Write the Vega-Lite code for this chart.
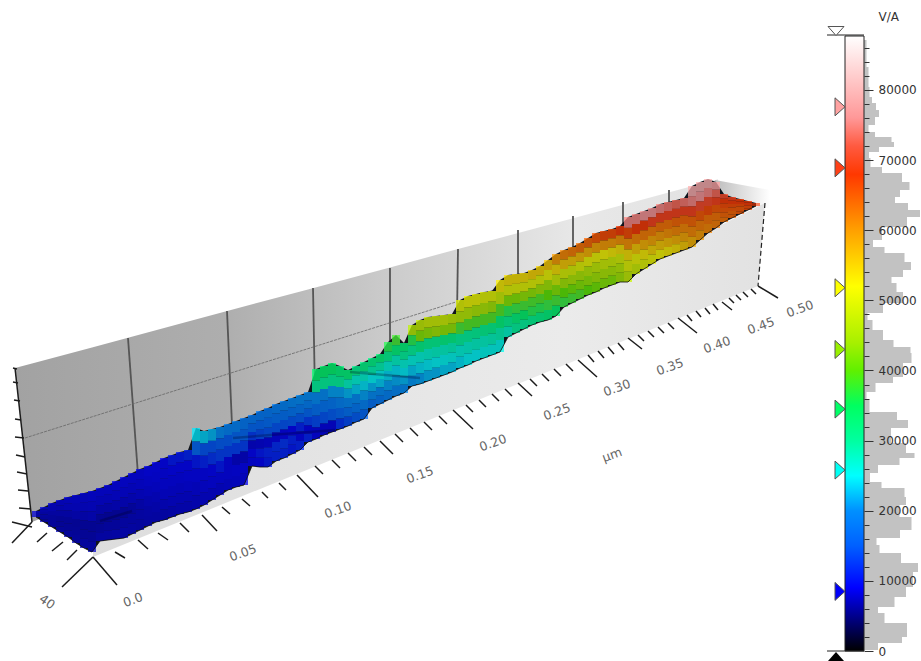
{"$schema":"https://vega.github.io/schema/vega-lite/v6.json","width":921,"height":661,"autosize":"none","padding":0,"background":"white","config":{"view":{"stroke":null}},
"datasets":{"surface":[
{"x":36,"top":511,"bot":517,"a":5000,"b":5000,"c":4500,"d":4500,"e":4000,"f":4000},
{"x":44,"top":507,"bot":522,"a":6000,"b":5000,"c":4000,"d":3500,"e":3000,"f":3000},
{"x":52,"top":503,"bot":527,"a":6000,"b":5500,"c":4000,"d":3000,"e":3000,"f":3000},
{"x":60,"top":500,"bot":532,"a":6500,"b":5500,"c":4000,"d":2500,"e":2500,"f":3000},
{"x":68,"top":497,"bot":537,"a":7000,"b":6000,"c":4000,"d":2500,"e":2500,"f":3000},
{"x":76,"top":495,"bot":543,"a":7000,"b":6000,"c":4500,"d":2000,"e":2500,"f":3000},
{"x":84,"top":493,"bot":548,"a":7000,"b":6000,"c":4500,"d":2000,"e":2500,"f":3500},
{"x":92,"top":491,"bot":552,"a":7500,"b":6500,"c":5000,"d":2000,"e":2500,"f":3500},
{"x":100,"top":488,"bot":541,"a":7500,"b":6500,"c":4500,"d":2000,"e":2500,"f":4000},
{"x":108,"top":485,"bot":540,"a":7500,"b":6500,"c":4500,"d":1500,"e":3000,"f":4000},
{"x":116,"top":481,"bot":539,"a":8000,"b":7000,"c":5000,"d":1500,"e":3000,"f":4500},
{"x":124,"top":477,"bot":538,"a":8000,"b":7000,"c":5000,"d":2000,"e":3500,"f":4500},
{"x":132,"top":473,"bot":534,"a":8000,"b":7000,"c":5500,"d":3000,"e":3500,"f":4000},
{"x":140,"top":469,"bot":530,"a":8000,"b":7500,"c":6500,"d":4500,"e":4000,"f":3500},
{"x":148,"top":466,"bot":526,"a":9000,"b":8000,"c":7000,"d":5500,"e":4500,"f":4000},
{"x":156,"top":462,"bot":522,"a":9000,"b":8500,"c":7500,"d":6000,"e":5000,"f":4000},
{"x":164,"top":458,"bot":520,"a":9000,"b":8500,"c":8000,"d":7000,"e":5500,"f":4000},
{"x":172,"top":455,"bot":517,"a":9500,"b":9000,"c":8000,"d":7000,"e":6000,"f":4500},
{"x":180,"top":452,"bot":514,"a":9500,"b":9000,"c":8000,"d":7000,"e":6000,"f":5000},
{"x":188,"top":450,"bot":512,"a":10000,"b":9000,"c":8500,"d":7500,"e":6000,"f":5000},
{"x":196,"top":428,"bot":509,"a":24000,"b":16000,"c":9500,"d":8500,"e":7000,"f":5500},
{"x":204,"top":431,"bot":505,"a":23000,"b":14000,"c":10000,"d":8500,"e":7500,"f":6000},
{"x":212,"top":429,"bot":500,"a":22000,"b":14000,"c":11000,"d":9000,"e":8000,"f":6000},
{"x":220,"top":427,"bot":495,"a":20000,"b":15000,"c":12000,"d":9500,"e":8000,"f":6500},
{"x":228,"top":424,"bot":490,"a":19000,"b":15000,"c":12000,"d":8000,"e":8000,"f":7000},
{"x":236,"top":421,"bot":487,"a":19000,"b":16000,"c":12000,"d":5000,"e":8500,"f":7500},
{"x":244,"top":418,"bot":485,"a":18000,"b":16000,"c":12000,"d":5000,"e":8500,"f":7500},
{"x":252,"top":415,"bot":466,"a":18000,"b":16000,"c":11500,"d":5500,"e":9000,"f":8500},
{"x":260,"top":411,"bot":467,"a":18000,"b":16000,"c":13000,"d":6000,"e":9500,"f":9000},
{"x":268,"top":408,"bot":467,"a":18000,"b":16500,"c":14000,"d":7000,"e":10000,"f":9500},
{"x":276,"top":404,"bot":461,"a":18500,"b":17000,"c":14000,"d":7500,"e":10500,"f":10000},
{"x":284,"top":401,"bot":458,"a":19000,"b":17000,"c":14000,"d":8000,"e":11000,"f":10000},
{"x":292,"top":398,"bot":454,"a":19500,"b":17500,"c":14500,"d":9000,"e":10000,"f":9500},
{"x":300,"top":395,"bot":450,"a":20000,"b":18000,"c":15000,"d":10000,"e":8000,"f":10000},
{"x":308,"top":392,"bot":442,"a":20000,"b":18500,"c":16000,"d":12000,"e":8000,"f":10000},
{"x":316,"top":369,"bot":439,"a":34000,"b":30000,"c":20000,"d":17000,"e":13000,"f":8000},
{"x":324,"top":366,"bot":435,"a":34000,"b":30000,"c":20000,"d":17500,"e":14000,"f":7000},
{"x":332,"top":363,"bot":432,"a":34000,"b":30000,"c":21000,"d":18000,"e":15000,"f":7000},
{"x":340,"top":366,"bot":429,"a":33000,"b":30000,"c":21000,"d":19000,"e":16000,"f":11000},
{"x":348,"top":370,"bot":426,"a":33000,"b":28000,"c":22000,"d":19500,"e":17000,"f":13000},
{"x":356,"top":366,"bot":422,"a":31000,"b":27000,"c":23000,"d":20000,"e":18000,"f":15000},
{"x":364,"top":362,"bot":419,"a":32000,"b":27500,"c":24000,"d":21000,"e":19000,"f":16000},
{"x":372,"top":358,"bot":408,"a":32000,"b":29000,"c":25000,"d":22000,"e":20000,"f":17000},
{"x":380,"top":354,"bot":404,"a":33000,"b":29000,"c":25500,"d":23000,"e":20000,"f":18000},
{"x":388,"top":342,"bot":400,"a":36000,"b":31000,"c":27000,"d":23500,"e":21000,"f":19000},
{"x":396,"top":335,"bot":396,"a":38000,"b":33000,"c":28000,"d":24000,"e":21500,"f":19500},
{"x":404,"top":343,"bot":393,"a":33000,"b":30000,"c":27000,"d":24500,"e":22000,"f":20000},
{"x":412,"top":325,"bot":386,"a":46000,"b":36000,"c":30000,"d":26500,"e":23000,"f":20500},
{"x":420,"top":320,"bot":384,"a":47000,"b":42000,"c":32000,"d":27000,"e":24000,"f":21000},
{"x":428,"top":317,"bot":381,"a":48000,"b":43000,"c":31000,"d":27500,"e":24500,"f":22000},
{"x":436,"top":316,"bot":378,"a":48000,"b":44000,"c":31000,"d":28000,"e":25000,"f":22000},
{"x":444,"top":315,"bot":375,"a":48000,"b":43000,"c":32000,"d":28000,"e":25500,"f":23000},
{"x":452,"top":314,"bot":372,"a":47000,"b":43000,"c":32000,"d":28500,"e":26000,"f":23000},
{"x":460,"top":300,"bot":368,"a":50000,"b":46000,"c":38000,"d":30000,"e":27000,"f":24000},
{"x":468,"top":296,"bot":365,"a":51000,"b":46000,"c":39000,"d":30000,"e":27500,"f":25000},
{"x":476,"top":294,"bot":361,"a":51000,"b":45000,"c":39000,"d":30500,"e":28000,"f":25000},
{"x":484,"top":292,"bot":358,"a":50000,"b":45000,"c":39000,"d":31000,"e":28000,"f":26000},
{"x":492,"top":291,"bot":355,"a":50000,"b":44000,"c":39000,"d":31500,"e":28500,"f":26000},
{"x":500,"top":280,"bot":352,"a":53000,"b":48000,"c":39000,"d":33000,"e":29000,"f":26000},
{"x":508,"top":275,"bot":337,"a":54000,"b":50000,"c":42000,"d":36000,"e":31000,"f":28000},
{"x":516,"top":274,"bot":333,"a":54000,"b":50000,"c":42000,"d":37000,"e":33000,"f":30000},
{"x":524,"top":273,"bot":329,"a":54000,"b":50000,"c":43000,"d":38000,"e":34000,"f":30000},
{"x":532,"top":270,"bot":325,"a":55000,"b":50000,"c":43000,"d":38500,"e":36000,"f":31000},
{"x":540,"top":266,"bot":322,"a":55000,"b":50000,"c":44000,"d":39000,"e":36000,"f":32000},
{"x":548,"top":260,"bot":320,"a":56000,"b":51000,"c":44000,"d":40000,"e":37000,"f":33000},
{"x":556,"top":254,"bot":316,"a":60000,"b":54000,"c":48000,"d":42000,"e":38000,"f":34000},
{"x":564,"top":250,"bot":307,"a":62000,"b":56000,"c":49000,"d":44000,"e":40000,"f":37000},
{"x":572,"top":247,"bot":303,"a":63000,"b":56000,"c":49000,"d":45000,"e":41000,"f":38000},
{"x":580,"top":243,"bot":299,"a":64000,"b":57000,"c":50000,"d":45000,"e":42000,"f":39000},
{"x":588,"top":238,"bot":295,"a":65000,"b":58000,"c":51000,"d":46000,"e":43000,"f":40000},
{"x":596,"top":233,"bot":292,"a":66000,"b":59000,"c":51000,"d":47000,"e":44000,"f":41000},
{"x":604,"top":231,"bot":288,"a":67000,"b":60000,"c":52000,"d":48000,"e":45000,"f":42000},
{"x":612,"top":229,"bot":285,"a":67000,"b":60000,"c":53000,"d":48000,"e":45000,"f":42000},
{"x":620,"top":226,"bot":282,"a":68000,"b":61000,"c":54000,"d":49000,"e":46000,"f":44000},
{"x":628,"top":217,"bot":282,"a":75000,"b":67000,"c":61000,"d":54000,"e":50000,"f":47000},
{"x":636,"top":214,"bot":274,"a":75000,"b":68000,"c":62000,"d":56000,"e":51000,"f":48000},
{"x":644,"top":211,"bot":269,"a":76000,"b":68000,"c":63000,"d":58000,"e":53000,"f":50000},
{"x":652,"top":208,"bot":264,"a":76000,"b":69000,"c":63000,"d":59000,"e":55000,"f":51000},
{"x":660,"top":204,"bot":259,"a":75000,"b":69000,"c":64000,"d":60000,"e":56000,"f":52000},
{"x":668,"top":202,"bot":256,"a":74000,"b":69000,"c":64000,"d":61000,"e":57000,"f":53000},
{"x":676,"top":200,"bot":253,"a":73000,"b":69000,"c":65000,"d":62000,"e":58000,"f":54000},
{"x":684,"top":198,"bot":250,"a":74000,"b":69000,"c":65000,"d":62000,"e":59000,"f":56000},
{"x":692,"top":186,"bot":247,"a":80000,"b":75000,"c":69000,"d":65000,"e":62000,"f":58000},
{"x":700,"top":182,"bot":240,"a":80000,"b":76000,"c":70000,"d":66000,"e":63000,"f":60000},
{"x":708,"top":179,"bot":233,"a":80000,"b":75000,"c":70000,"d":67000,"e":64000,"f":62000},
{"x":716,"top":182,"bot":228,"a":78000,"b":73000,"c":69000,"d":66000,"e":64000,"f":63000},
{"x":724,"top":194,"bot":222,"a":70000,"b":68000,"c":67000,"d":66000,"e":65000,"f":64000},
{"x":732,"top":197,"bot":218,"a":69000,"b":68000,"c":67000,"d":66000,"e":65000,"f":65000},
{"x":740,"top":199,"bot":214,"a":68000,"b":68000,"c":67000,"d":66000,"e":66000,"f":66000},
{"x":748,"top":201,"bot":210,"a":68000,"b":68000,"c":68000,"d":67000,"e":67000,"f":67000},
{"x":756,"top":203,"bot":206,"a":68000,"b":68000,"c":68000,"d":68000,"e":68000,"f":68000}
],
"ticks":[
{"x":93,"y":557,"x2":117,"y2":585},{"x":93,"y":557,"x2":62,"y2":587},{"x":115,"y":552,"x2":125,"y2":558},{"x":138,"y":540,"x2":148,"y2":549},{"x":158,"y":533,"x2":168,"y2":540},{"x":180,"y":523,"x2":189,"y2":532},
{"x":202,"y":515,"x2":217,"y2":531},{"x":222,"y":507,"x2":230,"y2":514},{"x":242,"y":499,"x2":250,"y2":506},{"x":262,"y":492,"x2":268,"y2":498},{"x":279,"y":483,"x2":286,"y2":490},
{"x":297,"y":475,"x2":318,"y2":497},{"x":315,"y":466,"x2":323,"y2":474},{"x":332,"y":460,"x2":340,"y2":468},{"x":348,"y":453,"x2":356,"y2":461},{"x":364,"y":447,"x2":372,"y2":455},
{"x":380,"y":441,"x2":393,"y2":454},{"x":395,"y":434,"x2":403,"y2":442},{"x":410,"y":428,"x2":418,"y2":436},{"x":424,"y":422,"x2":432,"y2":430},{"x":439,"y":416,"x2":447,"y2":424},
{"x":453,"y":410,"x2":473,"y2":429},{"x":466,"y":405,"x2":473,"y2":412},{"x":479,"y":400,"x2":486,"y2":407},{"x":492,"y":394,"x2":499,"y2":401},{"x":505,"y":389,"x2":512,"y2":396},
{"x":518,"y":383,"x2":532,"y2":396},{"x":530,"y":379,"x2":537,"y2":386},{"x":542,"y":374,"x2":549,"y2":381},{"x":554,"y":369,"x2":561,"y2":376},{"x":566,"y":364,"x2":573,"y2":371},
{"x":578,"y":360,"x2":597,"y2":377},{"x":588,"y":355,"x2":594,"y2":362},{"x":598,"y":351,"x2":604,"y2":358},{"x":608,"y":347,"x2":614,"y2":354},{"x":618,"y":343,"x2":624,"y2":350},
{"x":628,"y":338,"x2":642,"y2":349},{"x":638,"y":335,"x2":644,"y2":341},{"x":648,"y":331,"x2":654,"y2":337},{"x":658,"y":327,"x2":664,"y2":333},{"x":668,"y":323,"x2":674,"y2":329},
{"x":678,"y":318,"x2":697,"y2":333},{"x":687,"y":315,"x2":692,"y2":321},{"x":696,"y":311,"x2":701,"y2":317},{"x":705,"y":308,"x2":710,"y2":314},{"x":713,"y":304,"x2":718,"y2":310},
{"x":722,"y":302,"x2":732,"y2":310},{"x":729,"y":298,"x2":734,"y2":303},{"x":736,"y":295,"x2":741,"y2":300},{"x":743,"y":292,"x2":748,"y2":297},{"x":751,"y":289,"x2":756,"y2":294},
{"x":758,"y":286,"x2":778,"y2":298},
{"x":77,"y":550,"x2":67,"y2":560},{"x":63,"y":542,"x2":52,"y2":551},{"x":47,"y":533,"x2":37,"y2":542},{"x":32,"y":522,"x2":12,"y2":543},{"x":32,"y":527,"x2":12,"y2":522},
{"x":17,"y":369,"x2":13,"y2":368},{"x":18,"y":383,"x2":13,"y2":382},{"x":20,"y":401,"x2":14,"y2":400},{"x":21,"y":420,"x2":15,"y2":419},{"x":24,"y":438,"x2":15,"y2":437},{"x":25,"y":457,"x2":16,"y2":455},{"x":27,"y":474,"x2":17,"y2":472},{"x":28,"y":491,"x2":18,"y2":490},{"x":31,"y":509,"x2":19,"y2":508},{"x":15,"y":368,"x2":32,"y2":522}
],
"hist":[{"v":87130,"n":1},{"v":83280,"n":4},{"v":80430,"n":5},{"v":79000,"n":6},{"v":78140,"n":10},{"v":77150,"n":14},{"v":76150,"n":16},{"v":75010,"n":6},{"v":74010,"n":3},{"v":73300,"n":19},{"v":72580,"n":36},{"v":71870,"n":24},{"v":71160,"n":6},{"v":70300,"n":4},{"v":69020,"n":9},{"v":68160,"n":27},{"v":66880,"n":49},{"v":65740,"n":42},{"v":64740,"n":30},{"v":63880,"n":32},{"v":62890,"n":56},{"v":61890,"n":56},{"v":60460,"n":30},{"v":58610,"n":6},{"v":57610,"n":12},{"v":56750,"n":29},{"v":55470,"n":52},{"v":54330,"n":42},{"v":53330,"n":36},{"v":52480,"n":19},{"v":51190,"n":46},{"v":49620,"n":32},{"v":48200,"n":6},{"v":47200,"n":1},{"v":45770,"n":16},{"v":44350,"n":22},{"v":43350,"n":37},{"v":42490,"n":56},{"v":41070,"n":39},{"v":39070,"n":39},{"v":38220,"n":19},{"v":36930,"n":4},{"v":35790,"n":1},{"v":34080,"n":10},{"v":32940,"n":56},{"v":31800,"n":32},{"v":30520,"n":22},{"v":29660,"n":32},{"v":28230,"n":52},{"v":27520,"n":49},{"v":26520,"n":22},{"v":25380,"n":6},{"v":24100,"n":6},{"v":23240,"n":29},{"v":21960,"n":52},{"v":20820,"n":32},{"v":19110,"n":39},{"v":17250,"n":56},{"v":16110,"n":16},{"v":15120,"n":9},{"v":13970,"n":22},{"v":12550,"n":52},{"v":11270,"n":56},{"v":9130,"n":42},{"v":7700,"n":42},{"v":6270,"n":19},{"v":5420,"n":9},{"v":3990,"n":32},{"v":2000,"n":54},{"v":1140,"n":22},{"v":140,"n":6}]},
"encoding":{"x":{"field":"x","type":"quantitative","scale":{"domain":[0,921]},"axis":null},"y":{"field":"y","type":"quantitative","scale":{"domain":[0,661],"reverse":true},"axis":null}},
"resolve":{"scale":{"x":"independent","y":"independent"},"axis":{"y":"independent"}},
"layer":[
{"data":{"values":[{"x":15,"y":368,"y2":368},{"x":32,"y":363.5,"y2":522},{"x":92,"y":347.4,"y2":498},{"x":190,"y":321,"y2":458},{"x":308,"y":289.4,"y2":400},{"x":390,"y":267.4,"y2":352},{"x":458,"y":249,"y2":320},{"x":548,"y":225,"y2":275},{"x":628,"y":203.4,"y2":235},{"x":700,"y":184,"y2":200},{"x":718,"y":179.2,"y2":195}]},
"mark":{"type":"area","color":{"gradient":"linear","x1":0,"x2":1,"y1":0,"y2":0,"stops":[{"offset":0,"color":"#a2a2a2"},{"offset":0.3,"color":"#aeaeae"},{"offset":0.53,"color":"#cbcbcb"},{"offset":0.8,"color":"#e8e8e8"},{"offset":1,"color":"#e2e2e2"}]}},"encoding":{"y2":{"field":"y2"}}},
{"data":{"values":[{"x":715,"y":180,"y2":205},{"x":770,"y":190,"y2":208}]},"mark":{"type":"area","color":{"gradient":"linear","x1":0,"x2":1,"y1":0,"y2":0,"stops":[{"offset":0,"color":"#bdbdbd"},{"offset":1,"color":"#ffffff"}]}},"encoding":{"y2":{"field":"y2"}}},
{"data":{"values":[{"x":128,"y":338,"x2":138,"y2":475},{"x":227,"y":311,"x2":232,"y2":425},{"x":313,"y":288,"x2":315,"y2":395},{"x":390,"y":268,"x2":390,"y2":345},{"x":458,"y":249,"x2":457,"y2":315},{"x":518,"y":230,"x2":518,"y2":275},{"x":573,"y":216,"x2":573,"y2":248},{"x":623,"y":202,"x2":623,"y2":228},{"x":669,"y":190,"x2":669,"y2":205}]},"mark":{"type":"rule","color":"#555555","strokeWidth":1.8},"encoding":{"x2":{"field":"x2"},"y2":{"field":"y2"}}},
{"data":{"values":[{"x":25,"y":438,"x2":497,"y2":289}]},"mark":{"type":"rule","color":"#666666","strokeWidth":0.8,"strokeDash":[3,1]},"encoding":{"x2":{"field":"x2"},"y2":{"field":"y2"}}},
{"data":{"values":[{"x":93,"y":540,"y2":557},{"x":758,"y":206.5,"y2":286},{"x":765,"y":203,"y2":203}]},"mark":{"type":"area","color":{"gradient":"linear","x1":0,"x2":1,"y1":0,"y2":0,"stops":[{"offset":0,"color":"#dddddd"},{"offset":0.7,"color":"#ebebeb"},{"offset":1,"color":"#e2e2e2"}]}},"encoding":{"y2":{"field":"y2"}}},
{"data":{"name":"ticks"},"mark":{"type":"rule","color":"#1c1c1c","strokeWidth":1.5},"encoding":{"x2":{"field":"x2"},"y2":{"field":"y2"}}},
{"data":{"values":[{"x":765,"y":203,"x2":758,"y2":286}]},"mark":{"type":"rule","color":"#222222","strokeWidth":1.2,"strokeDash":[5,3]},"encoding":{"x2":{"field":"x2"},"y2":{"field":"y2"}}},
{"data":{"name":"surface"},"mark":{"type":"area","color":"#10141c"},"encoding":{"y":{"field":"top","type":"quantitative","scale":{"domain":[0,661],"reverse":true},"axis":null},"y2":{"field":"bot"}}},
{"data":{"name":"surface"},"transform":[{"fold":["a","b","c","d","e","f"],"as":["band","va"]},{"calculate":"indexof('abcdef',datum.band)","as":"i"},{"calculate":"datum.top+(datum.bot-datum.top)*datum.i/6","as":"y"},{"calculate":"datum.top+(datum.bot-datum.top)*(datum.i+1)/6","as":"y2"}],"mark":{"type":"rule","strokeWidth":8,"opacity":0.74},"encoding":{"y2":{"field":"y2"},"color":{"field":"va","type":"quantitative","legend":null,"scale":{"domain":[0,9000,15000,20000,25000,30000,35000,40000,44000,52000,60000,68000,72000,76000,87700],"range":["#000000","#0000ff","#0060ff","#0090ff","#00ffff","#00ffa0","#00ff60","#60f000","#a8f000","#ffff00","#ffa000","#ff3800","#ff5a40","#ff9898","#ffffff"]}}}},
{"data":{"values":[{"x":100,"y":521,"x2":132,"y2":511},{"x":233,"y":438,"x2":335,"y2":430},{"x":350,"y":372,"x2":420,"y2":378}]},"mark":{"type":"rule","color":"#000020","strokeWidth":2.5,"opacity":0.28},"encoding":{"x2":{"field":"x2"},"y2":{"field":"y2"}}},
{"data":{"name":"surface"},"mark":{"type":"line","color":"#0a0a0a","strokeWidth":0.8},"encoding":{"y":{"field":"bot","type":"quantitative","scale":{"domain":[0,661],"reverse":true},"axis":null}}},
{"data":{"values":[{"x":133,"y":600,"t":"0.0"},{"x":243,"y":553,"t":"0.05"},{"x":338,"y":510,"t":"0.10"},{"x":420,"y":475,"t":"0.15"},{"x":493,"y":443,"t":"0.20"},{"x":557,"y":412,"t":"0.25"},{"x":617,"y":388,"t":"0.30"},{"x":670,"y":367,"t":"0.35"},{"x":717,"y":345,"t":"0.40"},{"x":761,"y":326,"t":"0.45"},{"x":800,"y":309,"t":"0.50"},{"x":612,"y":455,"t":"µm"}]},"mark":{"type":"text","font":"DejaVu Sans","fontSize":12.5,"angle":340,"color":"#666666"},"encoding":{"text":{"field":"t"}}},
{"data":{"values":[{"x":47,"y":602,"t":"40"}]},"mark":{"type":"text","font":"DejaVu Sans","fontSize":12.5,"angle":35,"color":"#666666"},"encoding":{"text":{"field":"t"}}},
{"data":{"name":"hist"},"mark":{"type":"area","orient":"horizontal","interpolate":"step","color":"#c2c2c2"},"encoding":{"x":{"field":"n","type":"quantitative","stack":null,"scale":{"domain":[0,57],"range":[864,921]},"axis":null},"y":{"field":"v","type":"quantitative","scale":{"domain":[0,87700],"range":[651,36]},"axis":{"orient":"right","offset":-57,"zindex":1,"values":[0,2000,4000,6000,8000,10000,12000,14000,16000,18000,20000,22000,24000,26000,28000,30000,32000,34000,36000,38000,40000,42000,44000,46000,48000,50000,52000,54000,56000,58000,60000,62000,64000,66000,68000,70000,72000,74000,76000,78000,80000,82000,84000,86000],"labelExpr":"datum.value % 10000 == 0 ? datum.value : ''","labelOverlap":false,"labelFlush":false,"domain":false,"grid":false,"tickColor":"#333333","tickSize":{"condition":{"test":"datum.value % 10000 == 0","value":9},"value":5},"labelPadding":5,"labelFont":"DejaVu Sans","labelFontSize":12,"labelColor":"#333333","title":"V/A","titleAngle":0,"titleX":14,"titleY":16,"titleAlign":"left","titleBaseline":"middle","titleFont":"DejaVu Sans","titleFontSize":12,"titleFontWeight":"normal","titleColor":"#333333"}}}},
{"data":{"values":[{"lo":0,"hi":87700,"x":845,"x2":864}]},"mark":{"type":"rect","stroke":"#222222","strokeWidth":1,"color":{"gradient":"linear","x1":0,"x2":0,"y1":1,"y2":0,"stops":[{"offset":0,"color":"#000000"},{"offset":0.1026,"color":"#0000ff"},{"offset":0.171,"color":"#0060ff"},{"offset":0.228,"color":"#0090ff"},{"offset":0.285,"color":"#00ffff"},{"offset":0.342,"color":"#00ffa0"},{"offset":0.399,"color":"#00ff60"},{"offset":0.456,"color":"#60f000"},{"offset":0.502,"color":"#a8f000"},{"offset":0.593,"color":"#ffff00"},{"offset":0.684,"color":"#ffa000"},{"offset":0.775,"color":"#ff3800"},{"offset":0.821,"color":"#ff5a40"},{"offset":0.867,"color":"#ff9898"},{"offset":1,"color":"#ffffff"}]}},"encoding":{"x2":{"field":"x2"},"y":{"field":"lo","type":"quantitative","scale":{"domain":[0,87700],"range":[651,36]},"axis":null},"y2":{"field":"hi"}}},
{"data":{"values":[{"x":840,"va":77600},{"x":840,"va":68900},{"x":840,"va":51800},{"x":840,"va":43000},{"x":840,"va":34500},{"x":840,"va":25800},{"x":840,"va":8500}]},"mark":{"type":"point","filled":true,"opacity":1,"shape":"M-1,-1.8L1,0L-1,1.8Z","size":100,"stroke":"#555555","strokeWidth":1},"encoding":{"y":{"field":"va","type":"quantitative","scale":{"domain":[0,87700],"range":[651,36]},"axis":null},"color":{"field":"va","type":"quantitative","legend":null,"scale":{"domain":[0,9000,15000,20000,25000,30000,35000,40000,44000,52000,60000,68000,72000,76000,87700],"range":["#000000","#0000ff","#0060ff","#0090ff","#00ffff","#00ffa0","#00ff60","#60f000","#a8f000","#ffff00","#ffa000","#ff3800","#ff5a40","#ff9898","#ffffff"]}}}},
{"data":{"values":[{"x":827,"y":35,"x2":864,"y2":35},{"x":827,"y":651,"x2":864,"y2":651}]},"mark":{"type":"rule","color":"#222222","strokeWidth":1},"encoding":{"x2":{"field":"x2"},"y2":{"field":"y2"}}},
{"data":{"values":[{"x":836,"y":31,"m":"top"}]},"mark":{"type":"point","filled":true,"opacity":1,"shape":"M-1.6,-0.9L1.6,-0.9L0,0.9Z","size":100,"color":"#ffffff","stroke":"#555555","strokeWidth":1}},
{"data":{"values":[{"x":836,"y":656.5,"m":"bottom"}]},"mark":{"type":"point","filled":true,"opacity":1,"shape":"M-1.6,0.9L1.6,0.9L0,-0.9Z","size":100,"color":"#000000"}}
]}
